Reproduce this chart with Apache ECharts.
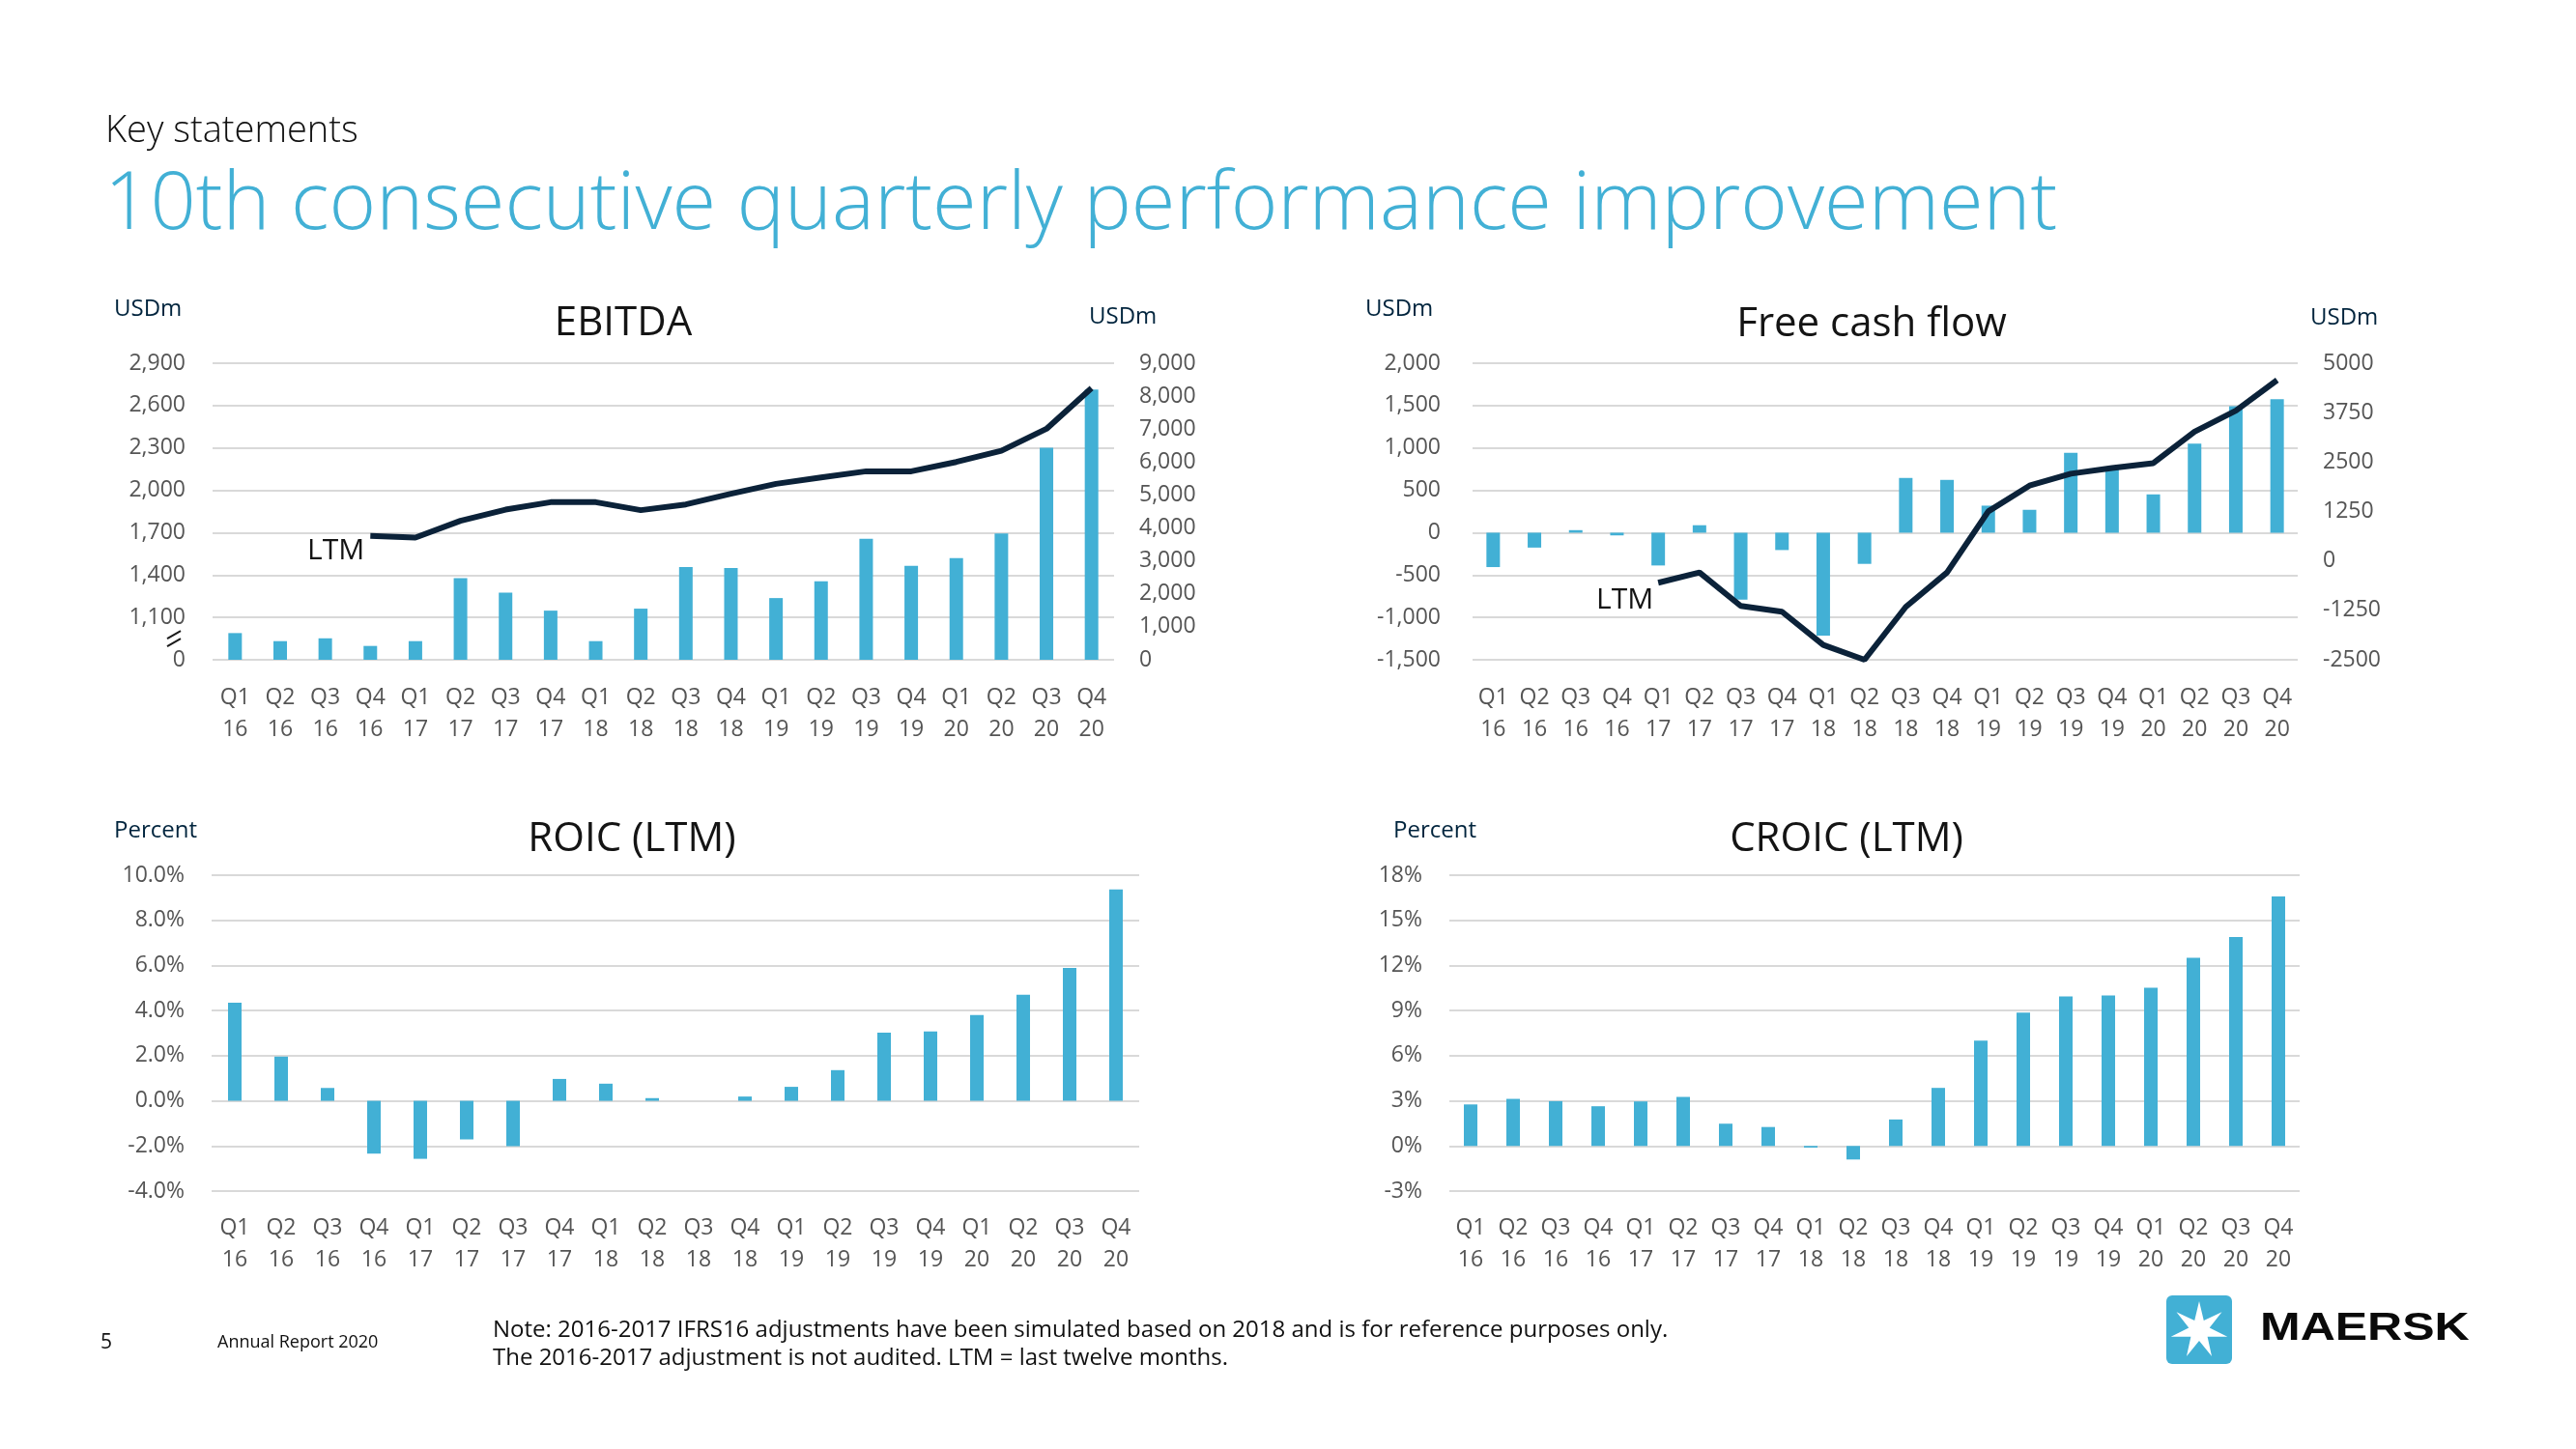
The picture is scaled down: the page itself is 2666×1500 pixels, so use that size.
<!DOCTYPE html>
<html><head><meta charset="utf-8">
<script src="https://cdn.jsdelivr.net/npm/echarts@6/dist/echarts.min.js"></script>
<style>html,body{margin:0;padding:0;background:#fff}#c{width:2666px;height:1500px}</style>
</head><body><div id="c"></div>
<script>
const categories = ['Q1\n16','Q2\n16','Q3\n16','Q4\n16','Q1\n17','Q2\n17','Q3\n17','Q4\n17','Q1\n18','Q2\n18','Q3\n18','Q4\n18','Q1\n19','Q2\n19','Q3\n19','Q4\n19','Q1\n20','Q2\n20','Q3\n20','Q4\n20'];
const ebitda = [989, 932, 952, 898, 932, 1378, 1276, 1148, 932, 1162, 1456, 1449, 1237, 1356, 1656, 1465, 1520, 1695, 2301, 2713];
const ebitdaLTM = [null, null, null, 3757, 3708, 4217, 4557, 4783, 4783, 4540, 4715, 5037, 5339, 5535, 5720, 5720, 6004, 6344, 7009, 8247];
const fcf = [-406, -176, 30, -32, -387, 88, -789, -205, -1214, -368, 646, 623, 319, 270, 942, 780, 452, 1052, 1492, 1576];
const fcfLTM = [null, null, null, null, -552, -293, -1138, -1284, -2123, -2500, -1162, -293, 1254, 1904, 2206, 2350, 2474, 3270, 3800, 4573];
const roic = [4.35, 1.96, 0.57, -2.34, -2.57, -1.71, -2.01, 0.97, 0.76, 0.12, 0, 0.19, 0.62, 1.36, 3.02, 3.07, 3.80, 4.70, 5.89, 9.37];
const croic = [2.76, 3.13, 2.98, 2.64, 2.96, 3.26, 1.48, 1.26, -0.11, -0.90, 1.76, 3.86, 7.01, 8.87, 9.94, 10.0, 10.52, 12.51, 13.89, 16.59];
const ebitdaLeftTicks = {min: 800, max: 2900, interval: 300, breakLabel: '0'};
const ebitdaRightTicks = {min: 0, max: 9000, interval: 1000};
const fcfLeftTicks = {min: -1500, max: 2000, interval: 500};
const fcfRightTicks = {min: -2500, max: 5000, interval: 1250};
const roicTicks = {min: -4, max: 10, interval: 2};
const croicTicks = {min: -3, max: 18, interval: 3};

const FONT = '"Open Sans", "Noto Sans", sans-serif';
const BLUE = '#42b0d5';
const NAVY = '#0b2239';
const TICK = '#555555';
const GRID = '#d9d9d9';

const chart = echarts.init(document.getElementById('c'), null, {renderer: 'canvas'});
const comma = v => Number(v).toLocaleString('en-US');

function xAxis(idx, margin) {
  return {
    type: 'category', gridIndex: idx, data: categories,
    axisLine: {show: false, onZero: false}, axisTick: {show: false},
    axisLabel: {interval: 0, color: TICK, fontSize: 23, lineHeight: 33, margin: margin, fontFamily: FONT},
    splitLine: {show: false}
  };
}
function yAxis(idx, ticks, pos, fmt, split, margin) {
  return {
    type: 'value', gridIndex: idx, position: pos,
    min: ticks.min, max: ticks.max, interval: ticks.interval,
    axisLine: {show: false}, axisTick: {show: false},
    axisLabel: {color: TICK, fontSize: 23, fontFamily: FONT, margin: margin, formatter: fmt},
    splitLine: {show: split, lineStyle: {color: GRID, width: 2}}
  };
}
function bar(data, xi, yi) {
  return {type: 'bar', data: data, xAxisIndex: xi, yAxisIndex: yi, barWidth: 14,
    itemStyle: {color: BLUE}, clip: true, silent: true};
}
function line(data, xi, yi) {
  return {type: 'line', data: data, xAxisIndex: xi, yAxisIndex: yi, symbol: 'none',
    lineStyle: {color: NAVY, width: 6}, connectNulls: false, z: 5, silent: true};
}

const option = {
  animation: false,
  backgroundColor: '#ffffff',
  grid: [
    {left: 220, right: 1513, top: 376, height: 307},
    {left: 1524, right: 288, top: 376, height: 307},
    {left: 219, right: 1487, top: 906, height: 327},
    {left: 1500, right: 286, top: 906, height: 327}
  ],
  xAxis: [xAxis(0, 23), xAxis(1, 23), xAxis(2, 22), xAxis(3, 22)],
  yAxis: [
    yAxis(0, ebitdaLeftTicks, 'left', v => v === ebitdaLeftTicks.min ? ebitdaLeftTicks.breakLabel : comma(v), true, 28),
    yAxis(0, ebitdaRightTicks, 'right', v => comma(v), false, 26),
    yAxis(1, fcfLeftTicks, 'left', v => comma(v), true, 33),
    yAxis(1, fcfRightTicks, 'right', v => String(v), false, 26),
    yAxis(2, roicTicks, 'left', v => v.toFixed(1) + '%', true, 28),
    yAxis(3, croicTicks, 'left', v => v + '%', true, 28)
  ],
  series: [
    bar(ebitda, 0, 0), line(ebitdaLTM, 0, 1),
    bar(fcf, 1, 2), line(fcfLTM, 1, 3),
    bar(roic, 2, 4), bar(croic, 3, 5)
  ]
};
chart.setOption(option);

function txt(text, x, y, size, color, opts) {
  opts = opts || {};
  return {type: 'text', x: x, y: y, z: 10, silent: true, scaleX: opts.scaleX || 1,
    style: {text: text, fill: color, fontSize: size, fontFamily: opts.family || FONT,
      fontWeight: opts.weight || 'normal', align: opts.align || 'left', verticalAlign: 'middle',
      textAlign: opts.align || 'left', textVerticalAlign: 'middle'}};
}

const g = [];
// headers
g.push(txt('Key statements', 109, 136, 38, '#111111', {weight: 300}));
g.push(txt('10th consecutive quarterly performance improvement', 108, 213, 83, BLUE, {weight: 300}));
// chart titles
g.push(txt('EBITDA', 645, 335, 42, '#141414', {align: 'center'}));
g.push(txt('Free cash flow', 1937, 336, 42, '#141414', {align: 'center'}));
g.push(txt('ROIC (LTM)', 654, 869, 42, '#141414', {align: 'center'}));
g.push(txt('CROIC (LTM)', 1911, 869, 42, '#141414', {align: 'center'}));
// axis units
const UNIT = '#00243d';
g.push(txt('USDm', 118, 320, 24, UNIT));
g.push(txt('USDm', 1127, 328, 24, UNIT));
g.push(txt('USDm', 1413, 320, 24, UNIT));
g.push(txt('USDm', 2391, 329, 24, UNIT));
g.push(txt('Percent', 118, 860, 24, UNIT));
g.push(txt('Percent', 1442, 860, 24, UNIT));
// LTM labels anchored to first LTM points
const e0 = ebitdaLTM.findIndex(v => v !== null);
const pE = chart.convertToPixel({xAxisIndex: 0, yAxisIndex: 1}, [e0, ebitdaLTM[e0]]);
g.push(txt('LTM', pE[0] - 6, pE[1] + 16, 30, '#141414', {align: 'right'}));
const f0 = fcfLTM.findIndex(v => v !== null);
const pF = chart.convertToPixel({xAxisIndex: 1, yAxisIndex: 3}, [f0, fcfLTM[f0]]);
g.push(txt('LTM', pF[0] - 5, pF[1] + 18, 30, '#141414', {align: 'right'}));
// axis break marks on EBITDA left axis
const yb = chart.convertToPixel({yAxisIndex: 0}, ebitdaLeftTicks.min + ebitdaLeftTicks.interval * 0.5);
const xb = 180;
[-4, 4].forEach(d => {
  g.push({type: 'line', silent: true, z: 10,
    shape: {x1: xb - 7, y1: yb + d + 4, x2: xb + 7, y2: yb + d - 4},
    style: {stroke: '#1a1a1a', lineWidth: 2}});
});
// footer
g.push(txt('5', 104, 1390, 21, '#111111'));
g.push(txt('Annual Report 2020', 225, 1390, 18, '#111111'));
g.push(txt('Note: 2016-2017 IFRS16 adjustments have been simulated based on 2018 and is for reference purposes only.', 510, 1377, 24, '#111111'));
g.push(txt('The 2016-2017 adjustment is not audited. LTM = last twelve months.', 510, 1406, 24, '#111111'));
// logo
g.push({type: 'rect', silent: true, z: 10, shape: {x: 2242, y: 1341, width: 68, height: 71, r: 6}, style: {fill: BLUE}});
const star = [];
const cx = 2276, cy = 1377, R = 30, r = 11;
for (let k = 0; k < 14; k++) {
  const a = -Math.PI / 2 + k * Math.PI / 7;
  const rr = k % 2 === 0 ? R : r;
  star.push([cx + rr * Math.cos(a), cy + rr * Math.sin(a)]);
}
g.push({type: 'polygon', silent: true, z: 11, shape: {points: star}, style: {fill: '#ffffff'}});
g.push(txt('MAERSK', 2339, 1376, 40, '#0a0a0a', {weight: 'bold', family: '"Liberation Sans", Arial, sans-serif', scaleX: 1.25}));

chart.setOption({graphic: {elements: g}});
</script>
</body></html>
